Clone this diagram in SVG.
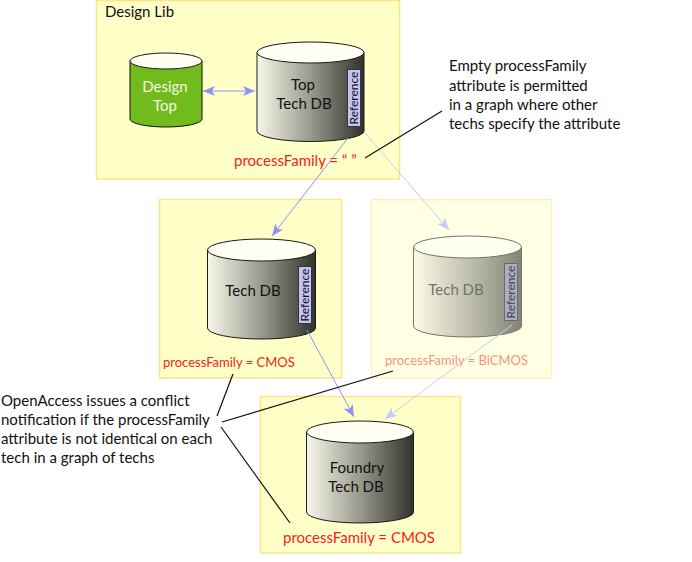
<svg xmlns="http://www.w3.org/2000/svg" width="692" height="562" viewBox="0 0 692 562">
<defs>
<linearGradient id="g" x1="0" x2="1" y1="0" y2="0"><stop offset="0" stop-color="#f8f8ea"/><stop offset="0.5" stop-color="#9a998e"/><stop offset="1" stop-color="#32322a"/></linearGradient>
<marker id="a" viewBox="0 0 12 10" refX="12" refY="5" markerWidth="12" markerHeight="10" markerUnits="userSpaceOnUse" orient="auto-start-reverse"><path d="M0 0L12 5L0 10L3 5Z" fill="#8b95f5"/></marker>
<marker id="b" viewBox="0 0 12 10" refX="12" refY="5" markerWidth="12" markerHeight="10" markerUnits="userSpaceOnUse" orient="auto"><path d="M0 0L12 5L0 10L3 5Z" fill="#c6caf8"/></marker>
</defs>
<style>
text{font-family:Lato,"Open Sans","Liberation Sans",sans-serif;font-size:15px;fill:#111}
.box{fill:#ffffc8;stroke:#fde38a;stroke-width:1.5}
.side{fill:url(#g);stroke:#1a1a1a;stroke-width:1}
.top{fill:#fffff4;stroke:#1a1a1a;stroke-width:1}
.ref{fill:#c4c4f6;stroke:#333;stroke-width:1}
.reft{font-size:12px;text-anchor:middle}
.m{text-anchor:middle}
.red{fill:#f5231a}
.small{font-size:13px}
.blue{stroke:#8b95f5;stroke-width:1;fill:none}
.pale{stroke:#c6caf8;stroke-width:1;fill:none}
.call{stroke:#111;stroke-width:1.2;fill:none}
</style>
<g id="design-lib">
<rect class="box" x="96.500" y="0.500" width="303" height="178.500"/>
<text x="105" y="17">Design Lib</text>
</g>
<g id="design-top">
<path d="M130 61V119A36 8 0 0 0 202 119V61Z" fill="#72bb1c" stroke="#111"/>
<ellipse class="top" cx="166" cy="61" rx="36" ry="8"/>
<text class="m" x="165" y="92" style="fill:#f4f8e0">Design</text>
<text class="m" x="165" y="111" style="fill:#f4f8e0">Top</text>
</g>
<g id="top-tech-db">
<path class="side" d="M257 52.500V131A53.500 10.500 0 0 0 364 131V52.500Z"/>
<ellipse class="top" cx="310.500" cy="52.500" rx="53.500" ry="10.500"/>
<text class="m" x="303" y="90">Top</text>
<text class="m" x="304" y="109">Tech DB</text>
<rect class="ref" x="347.500" y="69.500" width="13" height="57"/>
<text class="reft" transform="translate(358 98) rotate(-90)">Reference</text>
<text class="red" x="234" y="166">processFamily = “ ”</text>
</g>
<g id="tech-db">
<rect class="box" x="159.500" y="199.500" width="182" height="178.500"/>
<path class="side" d="M207.500 250V328A54 11 0 0 0 315.500 328V250Z"/>
<ellipse class="top" cx="261.500" cy="250" rx="54" ry="11"/>
<text class="m" x="253" y="296">Tech DB</text>
<rect class="ref" x="298.500" y="266.500" width="13" height="57"/>
<text class="reft" transform="translate(309 295) rotate(-90)">Reference</text>
<text class="red small" x="163" y="367">processFamily = CMOS</text>
</g>
<g id="bicmos-tech-db">
<rect class="box" x="371.500" y="199.500" width="180" height="178.500" opacity="0.5"/>
<g opacity="0.6">
<path class="side" d="M413.500 247V326A54 11 0 0 0 521.500 326V247Z"/>
<ellipse class="top" cx="467.500" cy="247" rx="54" ry="11"/>
<text class="m" x="456" y="295">Tech DB</text>
</g>
<rect x="504.500" y="263.500" width="13" height="57" fill="#acacc6" stroke="#6a6a66"/>
<text class="reft" transform="translate(515 292) rotate(-90)" style="fill:#444">Reference</text>
<text class="red small" x="385" y="365" opacity="0.5">processFamily = BiCMOS</text>
</g>
<g id="foundry-tech-db">
<rect class="box" x="260.500" y="396.500" width="200" height="156.500"/>
<path class="side" d="M306.500 432V512A53.500 11 0 0 0 413.500 512V432Z"/>
<ellipse class="top" cx="360" cy="432" rx="53.500" ry="11"/>
<text class="m" x="357" y="473">Foundry</text>
<text class="m" x="356" y="492">Tech DB</text>
<text class="red" x="283" y="543">processFamily = CMOS</text>
</g>
<g id="connectors">
<path class="blue" d="M203 91H255" marker-start="url(#a)" marker-end="url(#a)"/>
<path class="blue" d="M348 138L272 236" marker-end="url(#a)"/>
<path class="pale" d="M364 132L449 230" marker-end="url(#b)"/>
<path class="blue" d="M307 330L354 417" marker-end="url(#a)"/>
<path class="pale" d="M512 325L385 419" marker-end="url(#b)"/>
<path class="call" d="M365 158L442 111"/>
<path class="call" d="M217 416L233 374"/>
<path class="call" d="M222 422L393 371"/>
<path class="call" d="M221 427L290 523"/>
</g>
<g id="note-empty">
<text x="449" y="71">Empty processFamily</text>
<text x="449" y="91">attribute is permitted</text>
<text x="449" y="110">in a graph where other</text>
<text x="449" y="129">techs specify the attribute</text>
</g>
<g id="note-conflict">
<text x="1" y="406">OpenAccess issues a conflict</text>
<text x="1" y="425">notification if the processFamily</text>
<text x="1" y="444">attribute is not identical on each</text>
<text x="1" y="463">tech in a graph of techs</text>
</g>
</svg>
